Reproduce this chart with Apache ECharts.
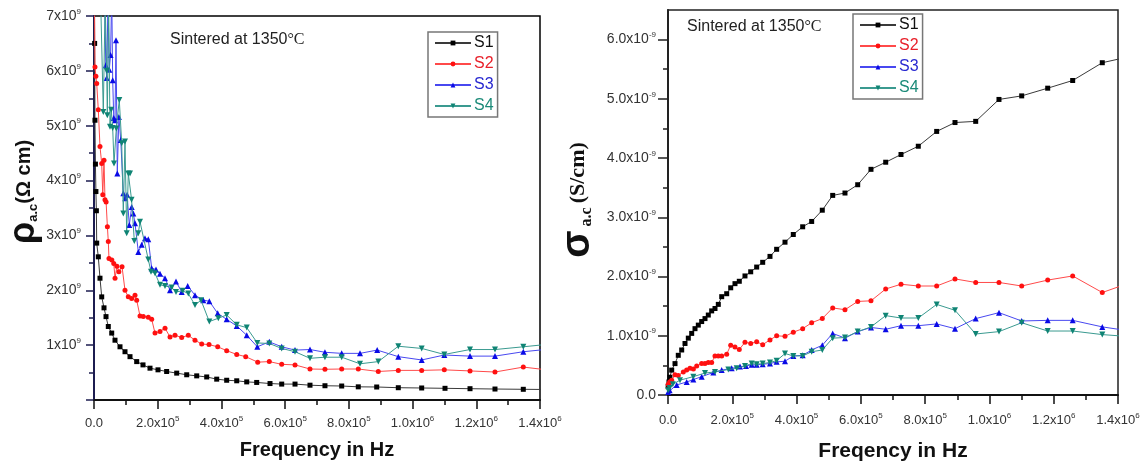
<!DOCTYPE html>
<html><head><meta charset="utf-8">
<script src="https://cdn.jsdelivr.net/npm/echarts@6/dist/echarts.min.js"></script>
<style>html,body{margin:0;padding:0;background:#fff}#c{width:1142px;height:463px}</style>
</head><body><div id="c"></div>
<script>
// ---- data (frequency in Hz, values in units shown by the axis exponent) ----
const seriesNames = ['S1', 'S2', 'S3', 'S4'];
const xTickLabels = ['0.0', '2.0x10^5', '4.0x10^5', '6.0x10^5', '8.0x10^5', '1.0x10^6', '1.2x10^6', '1.4x10^6'];
const rhoTickLabels = ['', '1x10^9', '2x10^9', '3x10^9', '4x10^9', '5x10^9', '6x10^9', '7x10^9'];
const sigmaTickLabels = ['0.0', '1.0x10^-9', '2.0x10^-9', '3.0x10^-9', '4.0x10^-9', '5.0x10^-9', '6.0x10^-9'];
const sigmaMajorTicks = [0, 1, 2, 3, 4, 5, 6];
const sigmaMinorTicks = [0.5, 1.5, 2.5, 3.5, 4.5, 5.5];

// resistivity, x10^9 ohm cm
const rhoS1 = [[1000,8.0],[2000,6.5],[3000,5.1],[4500,4.3],[6000,3.8],[7500,3.45],[8500,2.86],[13500,2.61],[18800,2.22],[24200,1.88],[31400,1.68],[37700,1.52],[44900,1.34],[55600,1.22],[65900,1.09],[81600,0.97],[97300,0.88],[113000,0.79],[134000,0.70],[153800,0.64],[175800,0.58],[200900,0.55],[228000,0.52],[259600,0.49],[291000,0.46],[322400,0.44],[353800,0.42],[385200,0.38],[416500,0.36],[448000,0.35],[479400,0.33],[510700,0.32],[552500,0.30],[589200,0.29],[631000,0.29],[678000,0.27],[725000,0.26],[777500,0.255],[829600,0.24],[887400,0.237],[955200,0.224],[1028600,0.219],[1101800,0.213],[1180300,0.206],[1258700,0.20],[1347600,0.195],[1450000,0.19]];
const rhoS2 = [[1000,7.6],[3100,6.07],[6000,5.9],[8500,5.77],[13500,5.29],[18800,4.62],[24200,4.31],[27500,3.74],[31400,4.37],[34500,3.65],[38000,3.61],[42000,3.16],[44900,2.89],[47000,2.58],[56000,2.55],[62000,2.49],[66000,2.22],[72000,2.44],[78000,2.34],[88000,2.43],[97300,2.0],[107700,1.88],[118300,1.85],[128700,1.91],[134000,1.82],[144400,1.53],[154800,1.52],[170400,1.51],[181100,1.47],[191500,1.22],[207200,1.25],[222900,1.31],[238600,1.15],[254300,1.18],[275300,1.14],[296000,1.18],[317000,1.09],[338100,1.02],[361000,1.01],[388300,0.97],[416500,0.90],[448000,0.83],[476200,0.79],[513900,0.69],[550300,0.70],[589200,0.65],[631000,0.64],[678000,0.565],[725000,0.56],[777500,0.565],[829600,0.565],[892400,0.52],[955200,0.54],[1028600,0.54],[1099600,0.55],[1180300,0.53],[1258700,0.51],[1347600,0.60],[1450000,0.53]];
const rhoS3 = [[25000,7.6],[29200,7.2],[34000,7.1],[37000,6.1],[39900,5.87],[44000,7.3],[48000,6.02],[52000,6.29],[55600,7.4],[58700,5.83],[62000,5.14],[65900,5.1],[69100,6.56],[73100,4.13],[78000,5.16],[84000,4.74],[92000,3.77],[98000,3.68],[104000,3.74],[110800,3.19],[118300,3.52],[123400,3.4],[128700,3.22],[139100,2.70],[149700,2.83],[160000,2.95],[170400,2.93],[181100,2.40],[194600,2.38],[207200,2.30],[222900,2.22],[238600,2.0],[257400,2.16],[275300,1.97],[294100,2.08],[317000,1.91],[343100,1.82],[361900,1.80],[388300,1.58],[416500,1.47],[448000,1.35],[479400,1.18],[512600,0.97],[550300,1.06],[589200,0.97],[631000,0.91],[678000,0.92],[725000,0.87],[777500,0.85],[835000,0.85],[889000,0.91],[955200,0.79],[1028600,0.73],[1099600,0.82],[1180300,0.80],[1258700,0.80],[1347600,0.88],[1450000,0.94]];
const rhoS4 = [[20000,7.5],[29200,5.25],[35000,7.3],[39900,6.0],[41800,5.19],[46000,7.2],[50200,4.98],[54000,5.29],[58700,4.96],[62800,4.31],[70000,4.95],[79400,5.47],[87000,4.68],[92000,3.40],[97300,4.71],[102600,3.04],[107700,4.13],[113000,4.13],[118000,3.65],[126500,2.9],[139100,3.04],[144400,3.25],[170400,2.56],[178900,2.34],[191500,2.31],[207200,2.1],[222900,2.08],[243900,2.05],[257400,1.97],[278400,1.99],[296000,1.94],[317000,1.73],[335900,1.82],[361900,1.43],[390200,1.49],[416500,1.55],[448000,1.37],[479400,1.32],[512600,1.04],[550300,1.03],[589200,0.94],[631000,0.88],[678000,0.76],[725000,0.78],[777500,0.78],[835000,0.66],[892400,0.70],[955200,0.98],[1028600,0.94],[1099600,0.83],[1180300,0.92],[1258700,0.92],[1347600,0.97],[1450000,1.03]];

// conductivity, x10^-9 S/cm
const sigmaS1 = [[500,0.14],[3000,0.22],[6000,0.30],[11500,0.42],[21800,0.53],[32000,0.67],[42600,0.76],[52900,0.87],[63200,0.96],[73700,1.04],[84000,1.12],[94300,1.18],[104800,1.24],[115100,1.29],[125400,1.35],[135900,1.42],[146200,1.46],[156500,1.53],[167100,1.66],[182600,1.71],[195100,1.81],[208400,1.88],[221800,1.92],[239500,2.01],[257300,2.08],[275900,2.16],[294600,2.24],[317300,2.34],[338000,2.46],[364000,2.58],[389800,2.71],[419000,2.84],[447000,2.93],[480000,3.12],[512400,3.37],[550600,3.41],[590200,3.55],[631500,3.81],[677300,3.93],[724900,4.06],[778700,4.20],[835900,4.45],[892900,4.60],[957300,4.62],[1029700,4.99],[1100400,5.05],[1181300,5.18],[1259000,5.31],[1351100,5.61],[1450000,5.73]];
const sigmaS2 = [[500,0.18],[5000,0.22],[11500,0.25],[21800,0.34],[32000,0.33],[47600,0.39],[58000,0.42],[68400,0.45],[79000,0.44],[89300,0.49],[104800,0.53],[115100,0.53],[125400,0.55],[135900,0.55],[146200,0.66],[156500,0.66],[167100,0.66],[182600,0.69],[195100,0.84],[208400,0.81],[221800,0.77],[239500,0.89],[257300,0.87],[275900,0.90],[294600,0.85],[317300,0.93],[338000,1.0],[364000,0.99],[389800,1.06],[419000,1.12],[447000,1.22],[480000,1.29],[512400,1.47],[550600,1.44],[590200,1.58],[631500,1.59],[677300,1.79],[724900,1.87],[778700,1.84],[835900,1.84],[892900,1.96],[957300,1.90],[1029700,1.90],[1100400,1.84],[1181300,1.94],[1259000,2.01],[1351100,1.73],[1450000,1.92]];
const sigmaS3 = [[500,0.05],[5000,0.08],[27000,0.17],[58200,0.22],[78700,0.26],[104800,0.31],[140900,0.38],[167100,0.42],[198200,0.45],[224000,0.48],[242700,0.49],[260400,0.51],[275900,0.51],[294600,0.52],[317300,0.53],[338000,0.56],[364000,0.57],[389800,0.66],[419000,0.67],[447000,0.76],[480000,0.84],[512400,1.04],[550600,0.96],[590200,1.07],[631500,1.14],[677300,1.11],[724900,1.17],[778700,1.17],[835900,1.20],[892900,1.12],[957300,1.29],[1029700,1.39],[1100400,1.25],[1181300,1.26],[1259000,1.26],[1351100,1.15],[1450000,1.07]];
const sigmaS4 = [[500,0.08],[5000,0.12],[15000,0.18],[37300,0.25],[78700,0.31],[115100,0.37],[146200,0.39],[187600,0.43],[213700,0.45],[239500,0.49],[260400,0.53],[275900,0.52],[294600,0.53],[317300,0.55],[338000,0.58],[364000,0.70],[389800,0.66],[419000,0.66],[447000,0.73],[480000,0.76],[512400,0.96],[550600,0.97],[590200,1.07],[631500,1.15],[677300,1.34],[724900,1.30],[778700,1.30],[835900,1.53],[892900,1.43],[957300,1.03],[1029700,1.07],[1100400,1.22],[1181300,1.08],[1259000,1.08],[1351100,1.02],[1450000,0.98]];

// ---- styling ----
const markerColors = ['#000000', '#ff1010', '#0a0ae6', '#0f8474'];
const lineColors = ['#3a3a3a', '#ff4a4a', '#4848f0', '#3a9a90'];
const legendTextColors = ['#111111', '#e8202a', '#2828d0', '#1a8a78'];
const symbols = ['rect', 'circle', 'triangle', 'path://M0,0 L10,0 L5,9 Z'];
const symbolSizes = [5, 5, 6, 6];

function richLabel(s) {
  if (!s) return '';
  const p = s.split('^');
  return p.length > 1 ? '{b|' + p[0] + '}{s|' + p[1] + '}' : '{b|' + p[0] + '}';
}
const xRich = {
  b: { fontSize: 13, fontFamily: 'Liberation Sans', color: '#333', lineHeight: 16 },
  s: { fontSize: 8, fontFamily: 'Liberation Sans', color: '#333', lineHeight: 6, verticalAlign: 'top' }
};
const yRich = {
  b: { fontSize: 14, fontFamily: 'Liberation Sans', color: '#333', lineHeight: 17 },
  s: { fontSize: 8, fontFamily: 'Liberation Sans', color: '#333', lineHeight: 6, verticalAlign: 'top' }
};

function mkX(gi, title, labelMargin, titleGap, titleSize) {
  return {
    type: 'value', gridIndex: gi, min: 0, max: 1.4e6, interval: 2e5,
    axisLine: { show: true, onZero: false, lineStyle: { color: '#111', width: 2 } },
    axisTick: { show: true, inside: false, length: 9, lineStyle: { color: '#111', width: 1.5 } },
    minorTick: { show: true, splitNumber: 2, length: 5, lineStyle: { color: '#111', width: 1.5 } },
    splitLine: { show: false },
    axisLabel: { margin: labelMargin, rich: xRich, showMaxLabel: true,
      formatter: v => richLabel(xTickLabels[Math.round(v / 2e5)]) },
    name: title, nameLocation: 'middle', nameGap: titleGap,
    nameTextStyle: { fontFamily: 'Liberation Sans', fontWeight: 'bold', fontSize: titleSize, color: '#111' }
  };
}

const option = {
  animation: false,
  backgroundColor: '#ffffff',
  grid: [
    { left: 94, top: 16, right: 602, bottom: 63, show: true, borderColor: '#000', borderWidth: 1.5, backgroundColor: 'rgba(0,0,0,0)', outerBoundsMode: 'none', containLabel: false },
    { left: 668, top: 10, right: 24, bottom: 68, show: true, borderColor: '#222', borderWidth: 1.5, backgroundColor: 'rgba(0,0,0,0)', outerBoundsMode: 'none', containLabel: false }
  ],
  xAxis: [mkX(0, 'Frequency in Hz', 15, 40, 20), mkX(1, 'Freqency in Hz', 17, 46, 21)],
  yAxis: [
    { type: 'value', gridIndex: 0, min: 0, max: 7, interval: 1,
      axisLine: { show: true, lineStyle: { color: '#1c1c50', width: 2 } },
      axisTick: { show: true, inside: false, length: 8, lineStyle: { color: '#1c1c50', width: 1.5 } },
      minorTick: { show: true, splitNumber: 2, length: 5, lineStyle: { color: '#1c1c50', width: 1.5 } },
      splitLine: { show: false },
      axisLabel: { margin: 13, rich: yRich, formatter: v => richLabel(rhoTickLabels[Math.round(v)]) } },
    { type: 'value', gridIndex: 1, min: 0, max: 6.5, interval: 0.5,
      axisLine: { show: true, lineStyle: { color: '#222', width: 2 } },
      axisTick: { show: true, inside: false, length: 10, customValues: sigmaMajorTicks, lineStyle: { color: '#222', width: 1.5 } },
      splitLine: { show: false },
      axisLabel: { margin: 12, rich: yRich, customValues: sigmaMajorTicks,
        formatter: v => (Math.abs(v - Math.round(v)) < 1e-6 ? richLabel(sigmaTickLabels[Math.round(v)]) : '') } },
    { type: 'value', gridIndex: 1, min: 0, max: 6.5, interval: 0.5, position: 'left', offset: 0,
      axisLine: { show: false },
      axisTick: { show: true, inside: false, length: 5, customValues: sigmaMinorTicks, lineStyle: { color: '#222', width: 1.5 } },
      splitLine: { show: false },
      axisLabel: { show: false } }
  ],
  legend: [0, 1].map(k => ({
    orient: 'vertical',
    left: k === 0 ? 428 : 853, top: k === 0 ? 32 : 14,
    padding: [3, 4, 3, 6], itemGap: 5, itemWidth: 36, itemHeight: 6,
    borderColor: '#777', borderWidth: 1.5, backgroundColor: '#fff',
    selectedMode: false,
    textStyle: { fontSize: 16, fontFamily: 'Liberation Sans', padding: [0, 0, 0, -2] },
    data: seriesNames.map((n, i) => ({ name: n, textStyle: { color: legendTextColors[i] } }))
  })),
  graphic: [
    { type: 'text', x: 170, y: 40, style: { text: '{a|Sintered at 1350}{b|°C}', verticalAlign: 'middle',
      rich: { a: { fontSize: 16, fontFamily: 'Liberation Sans', fill: '#222' }, b: { fontSize: 16, fontFamily: 'Liberation Serif', fill: '#222' } } } },
    { type: 'text', x: 687, y: 27, style: { text: '{a|Sintered at 1350}{b|°C}', verticalAlign: 'middle',
      rich: { a: { fontSize: 16, fontFamily: 'Liberation Sans', fill: '#222' }, b: { fontSize: 16, fontFamily: 'Liberation Serif', fill: '#222' } } } },
    { type: 'text', x: 24, y: 192, rotation: Math.PI / 2,
      style: { text: '{r|ρ}{s|a.c}{u|(Ω cm)}', align: 'center', verticalAlign: 'middle',
        rich: { r: { fontSize: 36, fontWeight: 'bold', fontFamily: 'Liberation Sans', fill: '#111', lineHeight: 32 },
                s: { fontSize: 13, fontWeight: 'bold', fontFamily: 'Liberation Sans', fill: '#111', lineHeight: 13, verticalAlign: 'bottom' },
                u: { fontSize: 20, fontWeight: 'bold', fontFamily: 'Liberation Sans', fill: '#111', lineHeight: 24 } } } },
    { type: 'text', x: 578, y: 200, rotation: Math.PI / 2,
      style: { text: '{r|σ}{s| a.c }{u|(S/cm)}', align: 'center', verticalAlign: 'middle',
        rich: { r: { fontSize: 40, fontWeight: 'bold', fontFamily: 'Liberation Sans', fill: '#111', lineHeight: 34 },
                s: { fontSize: 16, fontWeight: 'bold', fontFamily: 'Liberation Serif', fill: '#111', lineHeight: 16, verticalAlign: 'bottom' },
                u: { fontSize: 22, fontWeight: 'bold', fontFamily: 'Liberation Serif', fill: '#111', lineHeight: 24 } } } }
  ],
  series: []
};

const leftData = [rhoS1, rhoS2, rhoS3, rhoS4];
const rightData = [sigmaS1, sigmaS2, sigmaS3, sigmaS4];
[leftData, rightData].forEach((set, panel) => {
  set.forEach((d, i) => {
    option.series.push({
      type: 'line', name: seriesNames[i], xAxisIndex: panel, yAxisIndex: panel,
      data: d, symbol: symbols[i], symbolSize: symbolSizes[i], showAllSymbol: true,
      clip: true, z: 2 + i,
      itemStyle: { color: markerColors[i] },
      lineStyle: { color: lineColors[i], width: 1 },
      emphasis: { disabled: true }
    });
  });
});

const chart = echarts.init(document.getElementById('c'), null, { renderer: 'canvas' });
chart.setOption(option);
</script>
</body></html>
